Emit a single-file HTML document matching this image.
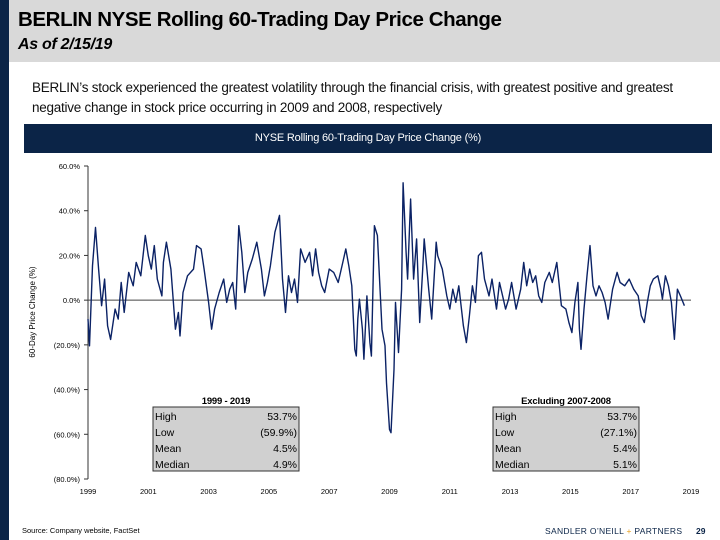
<!DOCTYPE html>
<html><head><meta charset="utf-8"><style>
body{margin:0;width:720px;height:540px;position:relative;background:#fff;font-family:"Liberation Sans",sans-serif;overflow:hidden}
.abs{position:absolute}
</style></head><body>
<div class="abs" style="left:0;top:0;width:9px;height:540px;background:#0b2447"></div>
<div class="abs" style="left:9px;top:0;width:711px;height:62px;background:#d9d9d9"></div>
<div class="abs" style="left:18px;top:8px;font-size:20.5px;font-weight:bold;color:#000;letter-spacing:-0.4px">BERLIN NYSE Rolling 60-Trading Day Price Change</div>
<div class="abs" style="left:18px;top:36px;font-size:16px;font-weight:bold;font-style:italic;letter-spacing:-0.3px">As of 2/15/19</div>
<div class="abs" style="left:32px;top:78px;width:680px;font-size:13.5px;line-height:20px;color:#111;letter-spacing:-0.25px">BERLIN’s stock experienced the greatest volatility through the financial crisis, with greatest positive and greatest negative change in stock price occurring in 2009 and 2008, respectively</div>
<div class="abs" style="left:24px;top:124px;width:688px;height:29px;background:#0b2447;color:#fff;font-size:11px;line-height:29px;text-align:center;letter-spacing:-0.2px">NYSE Rolling 60-Trading Day Price Change (%)</div>
<svg class="abs" style="left:0;top:0" width="720" height="540" id="chart"></svg>
<div class="abs" style="left:22px;top:526px;font-size:7.5px">Source: Company website, FactSet</div>
<div class="abs" style="left:545px;top:526px;font-size:8.5px;color:#0b2447;letter-spacing:0.3px">SANDLER O’NEILL <span style="color:#e8a020">+</span> PARTNERS</div>
<div class="abs" style="left:696px;top:526px;font-size:8.5px;font-weight:bold;color:#0b2447">29</div>
<script>
const yTicks=[60,40,20,0,-20,-40,-60,-80];
const xTicks=[1999,2001,2003,2005,2007,2009,2011,2013,2015,2017,2019];
const years=[1999.0,1999.05,1999.15,1999.25,1999.35,1999.45,1999.55,1999.65,1999.75,1999.9,2000.0,2000.1,2000.2,2000.35,2000.5,2000.6,2000.75,2000.9,2001.0,2001.1,2001.2,2001.3,2001.45,2001.5,2001.6,2001.75,2001.9,2002.0,2002.05,2002.15,2002.3,2002.5,2002.6,2002.75,2002.85,2003.0,2003.1,2003.2,2003.35,2003.5,2003.6,2003.7,2003.8,2003.9,2004.0,2004.1,2004.2,2004.3,2004.45,2004.6,2004.75,2004.85,2004.95,2005.05,2005.2,2005.35,2005.45,2005.55,2005.65,2005.75,2005.85,2005.95,2006.05,2006.2,2006.35,2006.45,2006.55,2006.65,2006.75,2006.85,2007.0,2007.15,2007.3,2007.45,2007.55,2007.65,2007.75,2007.85,2007.9,2007.95,2008.0,2008.1,2008.15,2008.25,2008.35,2008.4,2008.5,2008.6,2008.75,2008.85,2008.9,2009.0,2009.05,2009.15,2009.2,2009.3,2009.4,2009.45,2009.55,2009.6,2009.7,2009.8,2009.9,2010.0,2010.1,2010.15,2010.3,2010.4,2010.55,2010.6,2010.75,2010.9,2011.0,2011.1,2011.2,2011.3,2011.45,2011.55,2011.65,2011.75,2011.85,2011.95,2012.05,2012.15,2012.3,2012.4,2012.55,2012.65,2012.75,2012.85,2012.95,2013.05,2013.2,2013.35,2013.45,2013.55,2013.65,2013.75,2013.85,2013.95,2014.05,2014.15,2014.3,2014.4,2014.55,2014.7,2014.85,2014.95,2015.05,2015.15,2015.25,2015.3,2015.35,2015.45,2015.55,2015.65,2015.75,2015.85,2015.95,2016.05,2016.15,2016.25,2016.4,2016.55,2016.65,2016.8,2016.95,2017.1,2017.25,2017.35,2017.45,2017.55,2017.65,2017.75,2017.9,2018.0,2018.05,2018.15,2018.25,2018.35,2018.45,2018.55,2018.65,2018.78];
const changes=[-8.5,-20.4,15.4,32.5,13.9,-2.5,9.4,-11.5,-17.6,-4,-8.5,7.9,-5.5,12.4,6.4,16.9,10.9,28.9,19.9,13.9,24.4,9.4,1.9,16.9,25.9,13.9,-13,-5.5,-16,3.4,10.9,13.9,24.4,22.9,13.9,-1,-13,-4,3.4,9.4,-1,4.9,7.9,-4,33.3,21.4,3.4,12.4,18.4,25.9,13.9,1.9,7.9,15.4,30.4,37.9,9.4,-5.5,10.9,3.4,9.4,-1,22.9,16.9,21.4,10.9,22.9,12.4,6.4,3.4,13.9,12.4,7.9,16.9,22.9,15.4,6.4,-22,-25,-8.5,0.4,-13,-26.4,1.9,-19,-25,33.3,28.9,-13,-20.4,-37,-57.8,-59.3,-31,-1,-23.4,4.9,52.5,21.4,9.4,45.2,9.4,27.4,-10,13.9,27.4,4.9,-8.5,25.9,19.9,13.9,1.9,-4,4.9,-1,6.4,-11.5,-19,-7,6.4,-1,19.9,21.4,9.4,1.9,9.4,-4,7.9,1.9,-4,0.4,7.9,-4,4.9,16.9,6.4,13.9,7.9,10.9,1.9,-1,7.9,12.4,7.9,16.9,-2.5,-4,-10,-14.5,-1,7.9,-13,-22,-4,10.9,24.4,6.4,1.9,6.4,3.4,-1,-8.5,4.9,12.4,7.9,6.4,9.4,4.9,1.9,-7,-10,-1,6.4,9.4,10.9,4.9,0.4,10.9,6.4,-1,-17.5,4.9,1.9,-2.5];
const statLabels=["High","Low","Mean","Median"];
const statAll=["53.7%","(59.9%)","4.5%","4.9%"];
const statEx=["53.7%","(27.1%)","5.4%","5.1%"];
const NS="http://www.w3.org/2000/svg";
const svg=document.getElementById('chart');
const x0=88,x1=691,yTop=166,yBot=479;
const xs=v=>x0+(v-1999)/(2019-1999)*(x1-x0);
const ys=v=>yTop+(60-v)/140*(yBot-yTop);
function mk(t,a){const e=document.createElementNS(NS,t);for(const k in a)e.setAttribute(k,a[k]);svg.appendChild(e);return e;}
let e=mk('line',{x1:x0,y1:yTop,x2:x0,y2:yBot,stroke:'#333','stroke-width':1});


yTicks.forEach(v=>{
 const t=mk('line',{x1:x0-4,y1:ys(v),x2:x0,y2:ys(v),stroke:'#333'});
 
 
 const l=mk('text',{x:x0-8,y:ys(v)+3,'text-anchor':'end','font-size':'7.5','font-family':'Liberation Sans'});
 l.textContent=v<0?'('+(-v).toFixed(1)+'%)':v.toFixed(1)+'%';
 
 
});
xTicks.forEach(v=>{
 const l=mk('text',{x:xs(v),y:yBot+15,'text-anchor':'middle','font-size':'7.5','font-family':'Liberation Sans'});
 l.textContent=v;
 
 
});
e=mk('line',{x1:x0,y1:ys(0),x2:x1,y2:ys(0),stroke:'#444','stroke-width':1});


const yl=mk('text',{transform:'translate(35,312) rotate(-90)','text-anchor':'middle','font-size':'8','font-family':'Liberation Sans'});
yl.textContent='60-Day Price Change (%)';


const p=mk('path',{d:years.map((y,i)=>(i?'L':'M')+xs(y).toFixed(1)+','+ys(changes[i]).toFixed(1)).join(''),fill:'none',stroke:'#0b2265','stroke-width':1.4,'stroke-linejoin':'round'});


function table(x,title,vals,name){
 const tt=mk('text',{x:x+73,y:404,'text-anchor':'middle','font-size':'9.5','font-weight':'bold','font-family':'Liberation Sans','letter-spacing':'-0.2'});
 tt.textContent=title;
 
 
 const r=mk('rect',{x:x,y:407,width:146,height:64,fill:'#d0d0d0',stroke:'#333','stroke-width':1});
 
 
 statLabels.forEach((s,i)=>{
  const a=mk('text',{x:x+2,y:420+i*16,'font-size':'10.5','font-family':'Liberation Sans'});a.textContent=s;
  
  
  const b=mk('text',{x:x+144,y:420+i*16,'text-anchor':'end','font-size':'10.5','font-family':'Liberation Sans'});b.textContent=vals[i];
  
  
 });
}
table(153,'1999 - 2019',statAll,'stats-all-years');
table(493,'Excluding 2007-2008',statEx,'stats-excluding-crisis');
</script>
</body></html>
